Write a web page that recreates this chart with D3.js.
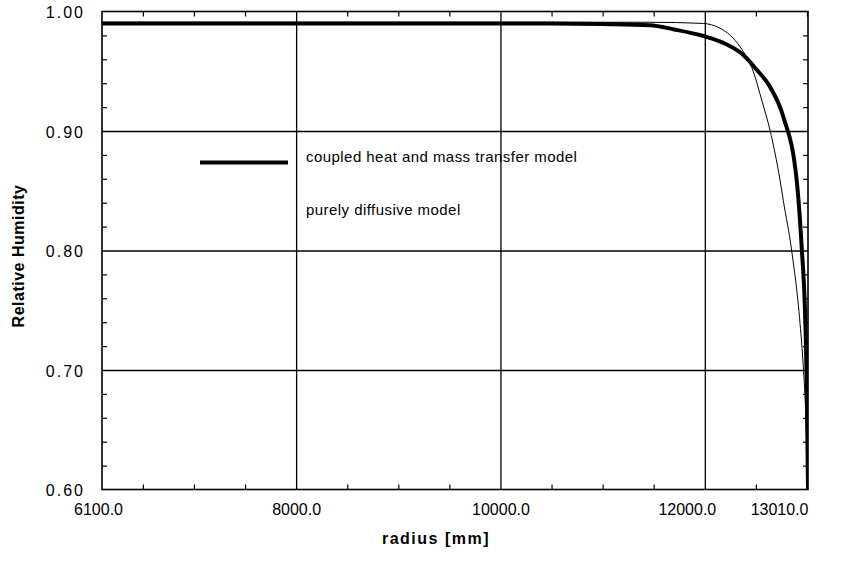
<!DOCTYPE html>
<html>
<head>
<meta charset="utf-8">
<script src="https://cdn.jsdelivr.net/npm/d3@7"></script>
<style>
  body { margin: 0; background: #fff; }
  svg { display: block; font-family: "Liberation Sans", Arial, sans-serif; }
  .axis .domain { display: none; }
  .grid line { stroke: #000; stroke-width: 1.3; }
  .minor line { stroke: #000; stroke-width: 1.2; }
  .lbl text { font-size: 16px; fill: #000; font-family: "Liberation Sans", Arial, sans-serif; }
</style>
</head>
<body>
<svg class="chart"></svg>
<script>
// radius [mm] and relative humidity
var radiusCoupled = [6100, 9000, 10500, 11000, 11464, 11700, 11985, 12200, 12377, 12500, 12638, 12768, 12899, 12948, 12981, 12997, 13010];
var rhCoupled     = [0.990, 0.990, 0.990, 0.9895, 0.9885, 0.985, 0.9795, 0.973, 0.9636, 0.952, 0.937, 0.912, 0.859, 0.803, 0.748, 0.692, 0.600];

var radiusDiffusive = [6100, 10000, 11464, 11985, 12149, 12250, 12345, 12475, 12560, 12638, 12736, 12768, 12850, 12932, 12964, 12990, 13010];
var rhDiffusive     = [0.991, 0.991, 0.991, 0.990, 0.986, 0.980, 0.9705, 0.9496, 0.925, 0.9008, 0.859, 0.842, 0.800, 0.739, 0.703, 0.660, 0.600];

var xTicks = [6100, 8000, 10000, 12000, 13010];
var xGridTicks = [8000, 10000, 12000];
var xMinorTicks = [6500, 7000, 7500, 8500, 9000, 9500, 10500, 11000, 11500, 12500, 13000];
var yTicks = [0.60, 0.70, 0.80, 0.90, 1.00];
var yGridTicks = [0.70, 0.80, 0.90];
var yMinorTicks = [0.62, 0.64, 0.66, 0.68, 0.72, 0.74, 0.76, 0.78, 0.82, 0.84, 0.86, 0.88, 0.92, 0.94, 0.96, 0.98];
var seriesNames = ["coupled heat and mass transfer model", "purely diffusive model"];

var margin = {top: 11.5, right: 49, bottom: 72.5, left: 102};
var width = 857 - margin.left - margin.right;
var height = 562 - margin.top - margin.bottom;

var svg = d3.select(".chart")
	.attr("width", 857)
	.attr("height", 562);

var chart = svg.append("g")
	.attr("transform", "translate(" + margin.left + "," + margin.top + ")");

var xChart = d3.scaleLinear().domain([6100, 13010]).range([0, width]);
var yChart = d3.scaleLinear().domain([0.6, 1.0]).range([height, 0]);

//grid lines
chart.append("g")
	.attr("class", "axis grid")
	.attr("transform", "translate(0," + height + ")")
	.call(d3.axisBottom(xChart).tickValues(xGridTicks).tickSize(-height).tickFormat(""));
chart.append("g")
	.attr("class", "axis grid")
	.call(d3.axisLeft(yChart).tickValues(yGridTicks).tickSize(-width).tickFormat(""));

//minor ticks, pointing inward on all four sides
chart.append("g")
	.attr("class", "axis minor")
	.attr("transform", "translate(0," + height + ")")
	.call(d3.axisBottom(xChart).tickValues(xMinorTicks).tickSize(-5).tickFormat(""));
chart.append("g")
	.attr("class", "axis minor")
	.call(d3.axisTop(xChart).tickValues(xMinorTicks).tickSize(-5).tickFormat(""));
chart.append("g")
	.attr("class", "axis minor")
	.call(d3.axisLeft(yChart).tickValues(yMinorTicks).tickSize(-5).tickFormat(""));
chart.append("g")
	.attr("class", "axis minor")
	.attr("transform", "translate(" + width + ",0)")
	.call(d3.axisRight(yChart).tickValues(yMinorTicks).tickSize(-5).tickFormat(""));

//frame
chart.append("rect")
	.attr("width", width)
	.attr("height", height)
	.attr("fill", "none")
	.attr("stroke", "#000")
	.attr("stroke-width", 1.6);

//tick labels
var xLab = chart.append("g")
	.attr("class", "axis lbl")
	.attr("transform", "translate(0," + height + ")")
	.call(d3.axisBottom(xChart).tickValues(xTicks).tickSize(0).tickFormat(d3.format(".1f")));
xLab.selectAll("line").remove();
xLab.selectAll("text")
	.attr("y", 0)
	.attr("dy", "25.5px")
	.attr("dx", function(d, i){
		if(i === 0) return -4;
		if(i === 3) return -18;
		return 0;
	})
	.style("text-anchor", function(d, i){ return i === xTicks.length - 1 ? "end" : "middle"; });

var yLab = chart.append("g")
	.attr("class", "axis lbl")
	.call(d3.axisLeft(yChart).tickValues(yTicks).tickSize(0).tickPadding(17).tickFormat(d3.format(".2f")));
yLab.selectAll("line").remove();
yLab.selectAll("text")
	.style("letter-spacing", "2px")
	.attr("dy", "0.4em");

//curves
var clip = chart.append("clipPath").attr("id", "plot-clip")
	.append("rect").attr("width", width).attr("height", height);

var line = d3.line()
	.x(function(d){ return xChart(d[0]); })
	.y(function(d){ return yChart(d[1]); })
	.curve(d3.curveMonotoneX);

chart.append("path")
	.datum(d3.zip(radiusDiffusive, rhDiffusive))
	.attr("clip-path", "url(#plot-clip)")
	.attr("fill", "none")
	.attr("stroke", "#000")
	.attr("stroke-width", 1)
	.attr("d", line);

chart.append("path")
	.datum(d3.zip(radiusCoupled, rhCoupled))
	.attr("clip-path", "url(#plot-clip)")
	.attr("fill", "none")
	.attr("stroke", "#000")
	.attr("stroke-width", 4)
	.attr("stroke-linejoin", "round")
	.attr("d", line);

//legend
svg.append("line")
	.attr("x1", 200).attr("x2", 288)
	.attr("y1", 162.5).attr("y2", 162.5)
	.attr("stroke", "#000")
	.attr("stroke-width", 4);

svg.selectAll(".legend-text")
	.data(seriesNames)
	.enter()
	.append("text")
	.attr("class", "legend-text")
	.attr("x", 306)
	.attr("y", function(d, i){ return 162 + i * 53; })
	.style("font-size", "15px")
	.style("letter-spacing", "0.45px")
	.text(function(d){ return d; });

//axis titles
svg.append("text")
	.attr("transform", "translate(436,544)")
	.style("text-anchor", "middle")
	.style("font-size", "16px")
	.style("font-weight", "bold")
	.style("letter-spacing", "1.5px")
	.text("radius [mm]");

svg.append("text")
	.attr("transform", "translate(24,256) rotate(-90)")
	.style("text-anchor", "middle")
	.style("font-size", "16px")
	.style("font-weight", "bold")
	.style("letter-spacing", "0.5px")
	.text("Relative Humidity");
</script>
</body>
</html>
